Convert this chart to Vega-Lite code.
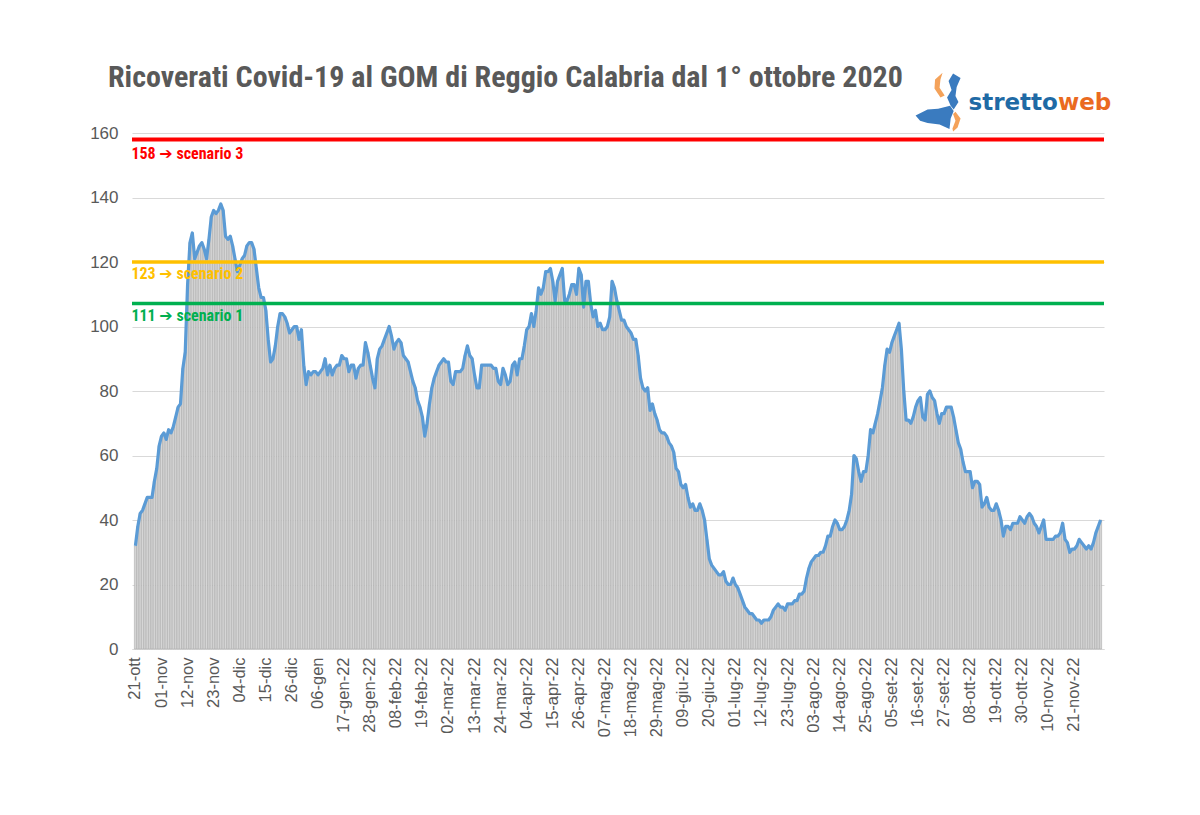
{
  "$schema": "https://vega.github.io/schema/vega-lite/v6.json",
  "width": 972,
  "height": 516,
  "autosize": {"type": "none"},
  "padding": {"left": 132, "top": 133, "right": 96, "bottom": 166},
  "background": "white",
  "title": {
    "text": "Ricoverati Covid-19 al GOM di Reggio Calabria dal 1° ottobre 2020",
    "anchor": "start",
    "frame": "group",
    "dx": -24,
    "dy": 46,
    "offset": 26,
    "font": "Liberation Sans Narrow, Roboto Condensed, Liberation Sans",
    "fontSize": 30,
    "fontWeight": "bold",
    "color": "#595959"
  },
  "config": {
    "view": {"stroke": null},
    "font": "Liberation Sans Narrow, Liberation Sans"
  },
  "datasets": {
    "main": [
      {"d":"2021-10-21","v":32},{"d":"2021-10-22","v":38},{"d":"2021-10-23","v":42},{"d":"2021-10-24","v":43},{"d":"2021-10-25","v":45},{"d":"2021-10-26","v":47},{"d":"2021-10-27","v":47},{"d":"2021-10-28","v":47},{"d":"2021-10-29","v":52},{"d":"2021-10-30","v":56},{"d":"2021-10-31","v":63},
      {"d":"2021-11-01","v":66},{"d":"2021-11-02","v":67},{"d":"2021-11-03","v":65},{"d":"2021-11-04","v":68},{"d":"2021-11-05","v":67},{"d":"2021-11-06","v":69},{"d":"2021-11-07","v":72},{"d":"2021-11-08","v":75},{"d":"2021-11-09","v":76},{"d":"2021-11-10","v":87},{"d":"2021-11-11","v":92},{"d":"2021-11-12","v":113},{"d":"2021-11-13","v":126},{"d":"2021-11-14","v":129},{"d":"2021-11-15","v":121},{"d":"2021-11-16","v":123},{"d":"2021-11-17","v":125},{"d":"2021-11-18","v":126},{"d":"2021-11-19","v":124},{"d":"2021-11-20","v":121},{"d":"2021-11-21","v":127},{"d":"2021-11-22","v":134},{"d":"2021-11-23","v":136},{"d":"2021-11-24","v":135},{"d":"2021-11-25","v":136},{"d":"2021-11-26","v":138},{"d":"2021-11-27","v":136},{"d":"2021-11-28","v":128},{"d":"2021-11-29","v":127},{"d":"2021-11-30","v":128},
      {"d":"2021-12-01","v":125},{"d":"2021-12-02","v":121},{"d":"2021-12-03","v":117},{"d":"2021-12-04","v":119},{"d":"2021-12-05","v":121},{"d":"2021-12-06","v":122},{"d":"2021-12-07","v":125},{"d":"2021-12-08","v":126},{"d":"2021-12-09","v":126},{"d":"2021-12-10","v":124},{"d":"2021-12-11","v":118},{"d":"2021-12-12","v":112},{"d":"2021-12-13","v":109},{"d":"2021-12-14","v":109},{"d":"2021-12-15","v":105},{"d":"2021-12-16","v":96},{"d":"2021-12-17","v":89},{"d":"2021-12-18","v":90},{"d":"2021-12-19","v":94},{"d":"2021-12-20","v":100},{"d":"2021-12-21","v":104},{"d":"2021-12-22","v":104},{"d":"2021-12-23","v":103},{"d":"2021-12-24","v":101},{"d":"2021-12-25","v":98},{"d":"2021-12-26","v":99},{"d":"2021-12-27","v":100},{"d":"2021-12-28","v":100},{"d":"2021-12-29","v":96},{"d":"2021-12-30","v":99},{"d":"2021-12-31","v":88},
      {"d":"2022-01-01","v":82},{"d":"2022-01-02","v":86},{"d":"2022-01-03","v":85},{"d":"2022-01-04","v":86},{"d":"2022-01-05","v":86},{"d":"2022-01-06","v":85},{"d":"2022-01-07","v":86},{"d":"2022-01-08","v":87},{"d":"2022-01-09","v":90},{"d":"2022-01-10","v":85},{"d":"2022-01-11","v":88},{"d":"2022-01-12","v":85},{"d":"2022-01-13","v":87},{"d":"2022-01-14","v":88},{"d":"2022-01-15","v":88},{"d":"2022-01-16","v":91},{"d":"2022-01-17","v":90},{"d":"2022-01-18","v":90},{"d":"2022-01-19","v":86},{"d":"2022-01-20","v":88},{"d":"2022-01-21","v":88},{"d":"2022-01-22","v":84},{"d":"2022-01-23","v":87},{"d":"2022-01-24","v":88},{"d":"2022-01-25","v":88},{"d":"2022-01-26","v":95},{"d":"2022-01-27","v":92},{"d":"2022-01-28","v":88},{"d":"2022-01-29","v":84},{"d":"2022-01-30","v":81},{"d":"2022-01-31","v":90},
      {"d":"2022-02-01","v":93},{"d":"2022-02-02","v":94},{"d":"2022-02-03","v":96},{"d":"2022-02-04","v":98},{"d":"2022-02-05","v":100},{"d":"2022-02-06","v":97},{"d":"2022-02-07","v":93},{"d":"2022-02-08","v":95},{"d":"2022-02-09","v":96},{"d":"2022-02-10","v":95},{"d":"2022-02-11","v":91},{"d":"2022-02-12","v":90},{"d":"2022-02-13","v":89},{"d":"2022-02-14","v":86},{"d":"2022-02-15","v":83},{"d":"2022-02-16","v":81},{"d":"2022-02-17","v":77},{"d":"2022-02-18","v":75},{"d":"2022-02-19","v":72},{"d":"2022-02-20","v":66},{"d":"2022-02-21","v":70},{"d":"2022-02-22","v":76},{"d":"2022-02-23","v":81},{"d":"2022-02-24","v":84},{"d":"2022-02-25","v":86},{"d":"2022-02-26","v":88},{"d":"2022-02-27","v":89},{"d":"2022-02-28","v":90},
      {"d":"2022-03-01","v":89},{"d":"2022-03-02","v":89},{"d":"2022-03-03","v":83},{"d":"2022-03-04","v":82},{"d":"2022-03-05","v":86},{"d":"2022-03-06","v":86},{"d":"2022-03-07","v":86},{"d":"2022-03-08","v":87},{"d":"2022-03-09","v":91},{"d":"2022-03-10","v":94},{"d":"2022-03-11","v":91},{"d":"2022-03-12","v":90},{"d":"2022-03-13","v":85},{"d":"2022-03-14","v":81},{"d":"2022-03-15","v":81},{"d":"2022-03-16","v":88},{"d":"2022-03-17","v":88},{"d":"2022-03-18","v":88},{"d":"2022-03-19","v":88},{"d":"2022-03-20","v":88},{"d":"2022-03-21","v":87},{"d":"2022-03-22","v":87},{"d":"2022-03-23","v":83},{"d":"2022-03-24","v":82},{"d":"2022-03-25","v":87},{"d":"2022-03-26","v":85},{"d":"2022-03-27","v":82},{"d":"2022-03-28","v":83},{"d":"2022-03-29","v":88},{"d":"2022-03-30","v":89},{"d":"2022-03-31","v":85},
      {"d":"2022-04-01","v":90},{"d":"2022-04-02","v":90},{"d":"2022-04-03","v":94},{"d":"2022-04-04","v":99},{"d":"2022-04-05","v":100},{"d":"2022-04-06","v":104},{"d":"2022-04-07","v":100},{"d":"2022-04-08","v":105},{"d":"2022-04-09","v":112},{"d":"2022-04-10","v":110},{"d":"2022-04-11","v":112},{"d":"2022-04-12","v":117},{"d":"2022-04-13","v":117},{"d":"2022-04-14","v":118},{"d":"2022-04-15","v":114},{"d":"2022-04-16","v":108},{"d":"2022-04-17","v":114},{"d":"2022-04-18","v":116},{"d":"2022-04-19","v":118},{"d":"2022-04-20","v":108},{"d":"2022-04-21","v":108},{"d":"2022-04-22","v":110},{"d":"2022-04-23","v":113},{"d":"2022-04-24","v":113},{"d":"2022-04-25","v":110},{"d":"2022-04-26","v":118},{"d":"2022-04-27","v":116},{"d":"2022-04-28","v":106},{"d":"2022-04-29","v":114},{"d":"2022-04-30","v":114},
      {"d":"2022-05-01","v":107},{"d":"2022-05-02","v":103},{"d":"2022-05-03","v":105},{"d":"2022-05-04","v":100},{"d":"2022-05-05","v":101},{"d":"2022-05-06","v":99},{"d":"2022-05-07","v":99},{"d":"2022-05-08","v":100},{"d":"2022-05-09","v":103},{"d":"2022-05-10","v":114},{"d":"2022-05-11","v":112},{"d":"2022-05-12","v":108},{"d":"2022-05-13","v":105},{"d":"2022-05-14","v":102},{"d":"2022-05-15","v":102},{"d":"2022-05-16","v":100},{"d":"2022-05-17","v":99},{"d":"2022-05-18","v":98},{"d":"2022-05-19","v":96},{"d":"2022-05-20","v":96},{"d":"2022-05-21","v":91},{"d":"2022-05-22","v":84},{"d":"2022-05-23","v":81},{"d":"2022-05-24","v":80},{"d":"2022-05-25","v":81},{"d":"2022-05-26","v":74},{"d":"2022-05-27","v":76},{"d":"2022-05-28","v":73},{"d":"2022-05-29","v":71},{"d":"2022-05-30","v":68},{"d":"2022-05-31","v":67},
      {"d":"2022-06-01","v":67},{"d":"2022-06-02","v":66},{"d":"2022-06-03","v":64},{"d":"2022-06-04","v":63},{"d":"2022-06-05","v":61},{"d":"2022-06-06","v":56},{"d":"2022-06-07","v":55},{"d":"2022-06-08","v":51},{"d":"2022-06-09","v":50},{"d":"2022-06-10","v":51},{"d":"2022-06-11","v":47},{"d":"2022-06-12","v":44},{"d":"2022-06-13","v":45},{"d":"2022-06-14","v":43},{"d":"2022-06-15","v":43},{"d":"2022-06-16","v":45},{"d":"2022-06-17","v":43},{"d":"2022-06-18","v":40},{"d":"2022-06-19","v":34},{"d":"2022-06-20","v":28},{"d":"2022-06-21","v":26},{"d":"2022-06-22","v":25},{"d":"2022-06-23","v":24},{"d":"2022-06-24","v":23},{"d":"2022-06-25","v":23},{"d":"2022-06-26","v":24},{"d":"2022-06-27","v":21},{"d":"2022-06-28","v":20},{"d":"2022-06-29","v":20},{"d":"2022-06-30","v":22},
      {"d":"2022-07-01","v":20},{"d":"2022-07-02","v":19},{"d":"2022-07-03","v":17},{"d":"2022-07-04","v":15},{"d":"2022-07-05","v":13},{"d":"2022-07-06","v":12},{"d":"2022-07-07","v":11},{"d":"2022-07-08","v":11},{"d":"2022-07-09","v":10},{"d":"2022-07-10","v":9},{"d":"2022-07-11","v":9},{"d":"2022-07-12","v":8},{"d":"2022-07-13","v":9},{"d":"2022-07-14","v":9},{"d":"2022-07-15","v":9},{"d":"2022-07-16","v":10},{"d":"2022-07-17","v":12},{"d":"2022-07-18","v":13},{"d":"2022-07-19","v":14},{"d":"2022-07-20","v":13},{"d":"2022-07-21","v":13},{"d":"2022-07-22","v":12},{"d":"2022-07-23","v":14},{"d":"2022-07-24","v":14},{"d":"2022-07-25","v":14},{"d":"2022-07-26","v":15},{"d":"2022-07-27","v":15},{"d":"2022-07-28","v":17},{"d":"2022-07-29","v":17},{"d":"2022-07-30","v":18},{"d":"2022-07-31","v":22},
      {"d":"2022-08-01","v":25},{"d":"2022-08-02","v":27},{"d":"2022-08-03","v":28},{"d":"2022-08-04","v":29},{"d":"2022-08-05","v":29},{"d":"2022-08-06","v":30},{"d":"2022-08-07","v":30},{"d":"2022-08-08","v":32},{"d":"2022-08-09","v":35},{"d":"2022-08-10","v":35},{"d":"2022-08-11","v":38},{"d":"2022-08-12","v":40},{"d":"2022-08-13","v":39},{"d":"2022-08-14","v":37},{"d":"2022-08-15","v":37},{"d":"2022-08-16","v":38},{"d":"2022-08-17","v":40},{"d":"2022-08-18","v":43},{"d":"2022-08-19","v":48},{"d":"2022-08-20","v":60},{"d":"2022-08-21","v":59},{"d":"2022-08-22","v":55},{"d":"2022-08-23","v":52},{"d":"2022-08-24","v":55},{"d":"2022-08-25","v":55},{"d":"2022-08-26","v":60},{"d":"2022-08-27","v":68},{"d":"2022-08-28","v":67},{"d":"2022-08-29","v":70},{"d":"2022-08-30","v":73},{"d":"2022-08-31","v":77},
      {"d":"2022-09-01","v":81},{"d":"2022-09-02","v":88},{"d":"2022-09-03","v":93},{"d":"2022-09-04","v":92},{"d":"2022-09-05","v":95},{"d":"2022-09-06","v":97},{"d":"2022-09-07","v":99},{"d":"2022-09-08","v":101},{"d":"2022-09-09","v":93},{"d":"2022-09-10","v":80},{"d":"2022-09-11","v":71},{"d":"2022-09-12","v":71},{"d":"2022-09-13","v":70},{"d":"2022-09-14","v":72},{"d":"2022-09-15","v":75},{"d":"2022-09-16","v":77},{"d":"2022-09-17","v":78},{"d":"2022-09-18","v":72},{"d":"2022-09-19","v":71},{"d":"2022-09-20","v":79},{"d":"2022-09-21","v":80},{"d":"2022-09-22","v":78},{"d":"2022-09-23","v":77},{"d":"2022-09-24","v":73},{"d":"2022-09-25","v":70},{"d":"2022-09-26","v":73},{"d":"2022-09-27","v":73},{"d":"2022-09-28","v":75},{"d":"2022-09-29","v":75},{"d":"2022-09-30","v":75},
      {"d":"2022-10-01","v":72},{"d":"2022-10-02","v":68},{"d":"2022-10-03","v":64},{"d":"2022-10-04","v":62},{"d":"2022-10-05","v":58},{"d":"2022-10-06","v":55},{"d":"2022-10-07","v":55},{"d":"2022-10-08","v":55},{"d":"2022-10-09","v":50},{"d":"2022-10-10","v":52},{"d":"2022-10-11","v":52},{"d":"2022-10-12","v":51},{"d":"2022-10-13","v":44},{"d":"2022-10-14","v":45},{"d":"2022-10-15","v":47},{"d":"2022-10-16","v":44},{"d":"2022-10-17","v":43},{"d":"2022-10-18","v":43},{"d":"2022-10-19","v":45},{"d":"2022-10-20","v":43},{"d":"2022-10-21","v":40},{"d":"2022-10-22","v":35},{"d":"2022-10-23","v":38},{"d":"2022-10-24","v":38},{"d":"2022-10-25","v":37},{"d":"2022-10-26","v":39},{"d":"2022-10-27","v":39},{"d":"2022-10-28","v":39},{"d":"2022-10-29","v":41},{"d":"2022-10-30","v":40},{"d":"2022-10-31","v":39},
      {"d":"2022-11-01","v":41},{"d":"2022-11-02","v":42},{"d":"2022-11-03","v":41},{"d":"2022-11-04","v":39},{"d":"2022-11-05","v":38},{"d":"2022-11-06","v":36},{"d":"2022-11-07","v":38},{"d":"2022-11-08","v":40},{"d":"2022-11-09","v":34},{"d":"2022-11-10","v":34},{"d":"2022-11-11","v":34},{"d":"2022-11-12","v":34},{"d":"2022-11-13","v":35},{"d":"2022-11-14","v":35},{"d":"2022-11-15","v":36},{"d":"2022-11-16","v":39},{"d":"2022-11-17","v":34},{"d":"2022-11-18","v":33},{"d":"2022-11-19","v":30},{"d":"2022-11-20","v":31},{"d":"2022-11-21","v":31},{"d":"2022-11-22","v":32},{"d":"2022-11-23","v":34},{"d":"2022-11-24","v":33},{"d":"2022-11-25","v":32},{"d":"2022-11-26","v":31},{"d":"2022-11-27","v":32},{"d":"2022-11-28","v":31},{"d":"2022-11-29","v":33},{"d":"2022-11-30","v":36},
      {"d":"2022-12-01","v":38},{"d":"2022-12-02","v":40}
    ],
    "soglie": [
      {"y": 158, "ty": 153.6, "label": "158 ➔ scenario 3", "c": "#ff0000", "w": 4},
      {"y": 120, "ty": 116.4, "label": "123 ➔ scenario 2", "c": "#ffc000", "w": 3.5},
      {"y": 107.1, "ty": 103.4, "label": "111 ➔ scenario 1", "c": "#00b050", "w": 3.5}
    ]
  },
  "layer": [
    {
      "data": {"name": "main"},
      "mark": {"type": "bar", "fill": "#d6d6d6", "stroke": "#a3a3a3", "strokeWidth": 0.5},
      "encoding": {
        "x": {
          "field": "d",
          "type": "ordinal",
          "scale": {"paddingInner": 0.12, "paddingOuter": 1.6},
          "axis": {
            "title": null,
            "values": ["2021-10-21","2021-11-01","2021-11-12","2021-11-23","2021-12-04","2021-12-15","2021-12-26","2022-01-06","2022-01-17","2022-01-28","2022-02-08","2022-02-19","2022-03-02","2022-03-13","2022-03-24","2022-04-04","2022-04-15","2022-04-26","2022-05-07","2022-05-18","2022-05-29","2022-06-09","2022-06-20","2022-07-01","2022-07-12","2022-07-23","2022-08-03","2022-08-14","2022-08-25","2022-09-05","2022-09-16","2022-09-27","2022-10-08","2022-10-19","2022-10-30","2022-11-10","2022-11-21"],
            "labelExpr": "datum.value == '2022-11-21' ? '21-nov-22' : substring(datum.value,8,10) + '-' + ['gen','feb','mar','apr','mag','giu','lug','ago','set','ott','nov','dic'][toNumber(substring(datum.value,5,7))-1] + (datum.value >= '2022-01-17' ? '-22' : '')",
            "labelAngle": -90,
            "labelFontSize": 16.5,
            "labelColor": "#595959",
            "labelPadding": 8,
            "labelLimit": 300,
            "labelBound": false,
            "labelOverlap": false,
            "ticks": false,
            "domain": true,
            "domainColor": "#d9d9d9",
            "grid": false
          }
        },
        "y": {
          "field": "v",
          "type": "quantitative",
          "scale": {"domain": [0, 160]},
          "axis": {
            "title": null,
            "values": [0, 20, 40, 60, 80, 100, 120, 140, 160],
            "labelFontSize": 17,
            "labelColor": "#595959",
            "labelPadding": 14,
            "ticks": false,
            "domain": false,
            "gridColor": "#d9d9d9",
            "gridWidth": 1
          }
        }
      }
    },
    {
      "data": {"name": "main"},
      "mark": {"type": "line", "color": "#5b9bd5", "strokeWidth": 3.2, "strokeJoin": "round"},
      "encoding": {
        "x": {"field": "d", "type": "ordinal"},
        "y": {"field": "v", "type": "quantitative"}
      }
    },
    {
      "data": {"name": "soglie"},
      "mark": {"type": "rule"},
      "encoding": {
        "y": {"field": "y", "type": "quantitative"},
        "color": {"field": "c", "type": "nominal", "scale": null},
        "strokeWidth": {"field": "w", "type": "quantitative", "scale": null}
      }
    },
    {
      "data": {"name": "soglie"},
      "mark": {"type": "text", "align": "left", "baseline": "middle", "fontWeight": "bold", "fontSize": 16, "dx": -4, "font": "Roboto Condensed, Liberation Sans Narrow, DejaVu Sans"},
      "encoding": {
        "x": {"datum": "2021-10-21", "type": "ordinal"},
        "y": {"field": "ty", "type": "quantitative"},
        "text": {"field": "label"},
        "color": {"field": "c", "type": "nominal", "scale": null}
      }
    },
    {
      "data": {"values": [{"k": "sicilia"}]},
      "mark": {"type": "point", "filled": true, "opacity": 1, "size": 3600, "fill": "#3a7bbf", "strokeWidth": 0,
        "shape": "M -0.95 0.45 L -0.55 0.25 L -0.2 0.22 L 0.2 0.12 L 0.32 0.3 L 0.22 0.55 L 0.18 0.9 L -0.15 0.75 L -0.55 0.7 L -0.8 0.62 Z M 0.22 0.12 L 0.1 -0.15 L 0.25 -0.4 L 0.15 -0.7 L 0.3 -0.95 L 0.55 -0.8 L 0.42 -0.5 L 0.38 -0.2 L 0.48 0.0 L 0.32 0.25 Z"},
      "encoding": {
        "x": {"datum": "2022-09-27", "type": "ordinal"},
        "y": {"datum": 169.6, "type": "quantitative"}
      }
    },
    {
      "data": {"values": [{"k": "arco"}]},
      "mark": {"type": "point", "filled": true, "opacity": 1, "size": 3600, "fill": "#f4a25a", "strokeWidth": 0,
        "shape": "M -0.05 -0.98 L -0.3 -0.75 L -0.32 -0.45 L -0.12 -0.15 L 0.02 -0.22 L -0.15 -0.48 L -0.12 -0.75 Z M 0.38 0.32 L 0.55 0.55 L 0.45 0.85 L 0.3 0.98 L 0.28 0.88 L 0.38 0.62 L 0.3 0.4 Z"},
      "encoding": {
        "x": {"datum": "2022-09-27", "type": "ordinal"},
        "y": {"datum": 169.6, "type": "quantitative"}
      }
    },
    {
      "data": {"values": [{"t": "stretto"}]},
      "mark": {"type": "text", "align": "right", "baseline": "alphabetic", "fontWeight": "bold", "fontSize": 23, "font": "DejaVu Sans", "color": "#1f6aa5", "dy": 9},
      "encoding": {
        "x": {"datum": "2022-11-14", "type": "ordinal"},
        "y": {"datum": 170, "type": "quantitative"},
        "text": {"field": "t"}
      }
    },
    {
      "data": {"values": [{"t": "web"}]},
      "mark": {"type": "text", "align": "left", "baseline": "alphabetic", "fontWeight": "bold", "fontSize": 23, "font": "DejaVu Sans", "color": "#ea6a1f", "dy": 9},
      "encoding": {
        "x": {"datum": "2022-11-14", "type": "ordinal"},
        "y": {"datum": 170, "type": "quantitative"},
        "text": {"field": "t"}
      }
    }
  ]
}
